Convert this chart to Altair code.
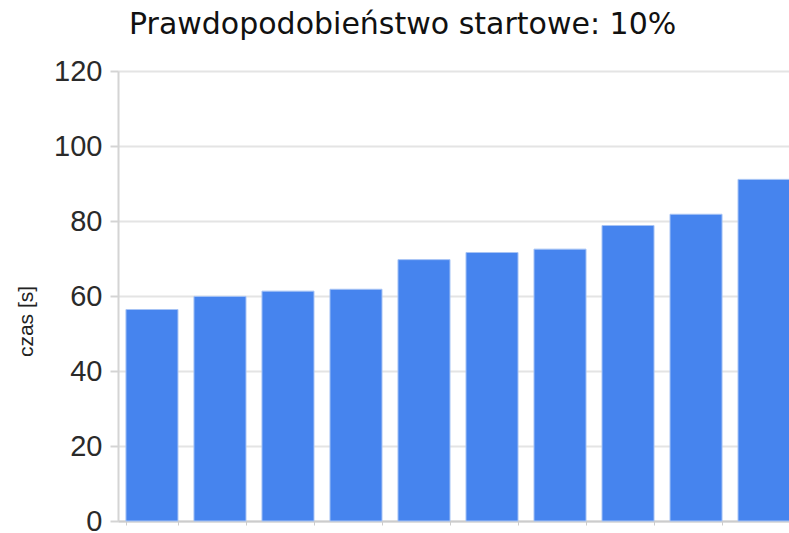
import altair as alt
import pandas as pd

categories = ["1", "2", "3", "4", "5", "6", "7", "8", "9", "10"]
values = [56.4, 59.9, 61.3, 61.8, 69.7, 71.6, 72.5, 78.8, 81.8, 91.1]
y_ticks = [0, 20, 40, 60, 80, 100, 120]

df = pd.DataFrame({"kat": categories, "czas": values})

chart = alt.Chart(df).mark_bar(
    color="#4684ee", stroke="#a6c3f5", strokeWidth=1
).encode(
    x=alt.X("kat:N", sort=categories,
            scale=alt.Scale(paddingInner=0.235, paddingOuter=0.117,
                            range=[0, 680]),
            axis=alt.Axis(title=None, labels=False, tickBand="extent",
                          domainColor="#cccccc", domainWidth=2,
                          tickColor="#cccccc", tickSize=4, tickWidth=1,
                          grid=False)),
    y=alt.Y("czas:Q", scale=alt.Scale(domain=[0, 120], nice=False),
            axis=alt.Axis(title="czas [s]", values=y_ticks,
                          titleFont="Liberation Sans", titleFontSize=21,
                          titleFontWeight="normal", titleColor="#222222",
                          titleX=-92, titleY=250, titleAngle=-90,
                          titleAlign="center", titleBaseline="middle",
                          labelFont="Liberation Sans", labelFontSize=29,
                          labelColor="#2a2a2a", labelPadding=8,
                          domainColor="#d4d4d4", domainWidth=2,
                          tickColor="#d4d4d4", tickSize=8, tickWidth=2,
                          gridColor="#e4e4e4", gridWidth=2)),
).properties(
    width=671,
    height=450,
    title=alt.TitleParams(
        "Prawdopodobieństwo startowe: 10%",
        font="DejaVu Sans", fontSize=30, fontWeight="normal",
        color="#111111", anchor="start", frame="group", dx=11, dy=7,
        baseline="alphabetic", offset=0,
    ),
    autosize=alt.AutoSizeParams(type="none"),
    padding={"left": 118, "top": 71, "right": 0, "bottom": 12},
).configure_view(stroke=None)

chart.save("out.html", embed_options={"renderer": "svg", "actions": False})
